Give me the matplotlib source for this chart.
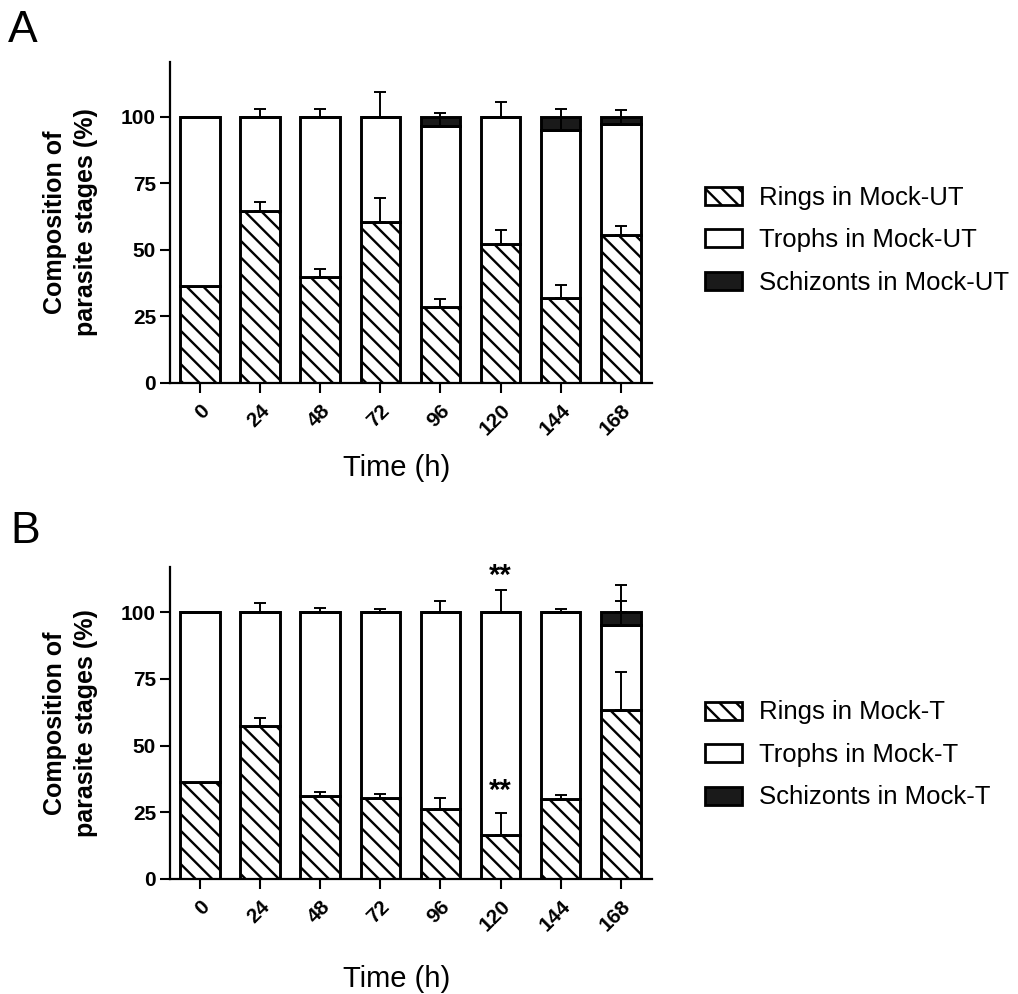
import matplotlib
matplotlib.use("Agg")
import matplotlib.pyplot as plt
from matplotlib.patches import Patch
import numpy as np

plt.rcParams['font.family'] = ['Liberation Sans', 'DejaVu Sans']
plt.rcParams['hatch.linewidth'] = 1.7

# ---------------- data ----------------
time_labels = ["0", "24", "48", "72", "96", "120", "144", "168"]

# Panel A (Mock-UT)
rings_A = [36.3, 64.7, 39.8, 60.3, 28.4, 52.2, 31.9, 55.7]
schiz_A = [0.0, 0.0, 0.0, 0.0, 3.4, 0.0, 4.9, 2.9]
rings_err_A = [0.0, 3.3, 2.9, 9.2, 3.0, 5.4, 5.0, 3.4]
trophs_err_A = [0.0, 3.0, 3.0, 9.1, 4.9, 5.6, 7.9, 5.2]
schiz_err_A = [0.0, 0.0, 0.0, 0.0, 0.0, 0.0, 0.0, 0.0]

# Panel B (Mock-T)
rings_B = [36.5, 57.2, 31.0, 30.2, 26.1, 16.4, 29.9, 63.5]
schiz_B = [0.0, 0.0, 0.0, 0.0, 0.0, 0.0, 0.0, 4.6]
rings_err_B = [0.0, 3.3, 1.6, 1.7, 4.3, 8.2, 1.5, 14.3]
trophs_err_B = [0.0, 3.5, 1.6, 1.4, 4.3, 8.4, 1.4, 8.7]
schiz_err_B = [0.0, 0.0, 0.0, 0.0, 0.0, 0.0, 0.0, 10.3]

# significance marks in panel B
star_idx = [5, 5]
star_y = [110.5, 30.2]
star_text = ["**", "**"]

legend_A = ["Rings in Mock-UT", "Trophs in Mock-UT", "Schizonts in Mock-UT"]
legend_B = ["Rings in Mock-T", "Trophs in Mock-T", "Schizonts in Mock-T"]

W, H = 1018, 994
fig = plt.figure(figsize=(W / 100, H / 100), dpi=100)


def draw_panel(ax, rings, schiz, r_err, t_err, s_err, ymax, labels, leg_y):
    x = np.arange(len(time_labels))
    rings = np.array(rings)
    schiz = np.array(schiz)
    trophs = 100 - rings - schiz
    bw = 0.66
    lw = 2.1
    ax.bar(x, rings, bw, color='white', edgecolor='black', hatch='\\\\', linewidth=lw, zorder=2)
    ax.bar(x, trophs, bw, bottom=rings, color='white', edgecolor='black', linewidth=lw, zorder=2)
    ax.bar(x, schiz, bw, bottom=rings + trophs, color='#1a1a1a', edgecolor='black', linewidth=lw, zorder=2)

    tops = [rings, rings + trophs, rings + trophs + schiz]
    errs = [np.array(r_err), np.array(t_err), np.array(s_err)]
    for top, err in zip(tops, errs):
        m = err > 0
        if m.any():
            ax.errorbar(x[m], top[m], yerr=[np.zeros(m.sum()), err[m]], fmt='none',
                        ecolor='black', elinewidth=1.4, capsize=4.3, capthick=1.4, zorder=3)

    ax.set_xlim(-0.5, 7.52)
    ax.set_ylim(0, ymax)
    ax.set_yticks([0, 25, 50, 75, 100])
    ax.set_xticks(x)
    ax.set_xticklabels(time_labels, rotation=45, ha='right', rotation_mode='anchor',
                       fontsize=15, fontweight='bold')
    for t in ax.get_yticklabels():
        t.set_fontsize(15)
        t.set_fontweight('bold')
    ax.tick_params(axis='both', direction='out', length=7, width=1.5, pad=3)
    ax.tick_params(axis='x', pad=6)
    for s in ['top', 'right']:
        ax.spines[s].set_visible(False)
    for s in ['left', 'bottom']:
        ax.spines[s].set_linewidth(1.6)
    ax.set_ylabel("Composition of\nparasite stages (%)", fontsize=18, fontweight='bold',
                  linespacing=1.35)
    ax.yaxis.set_label_coords(-0.15, 0.5)
    ax.set_xlabel("Time (h)", fontsize=21)

    handles = [Patch(facecolor='white', edgecolor='black', hatch='\\\\', linewidth=2),
               Patch(facecolor='white', edgecolor='black', linewidth=2),
               Patch(facecolor='#1a1a1a', edgecolor='black', linewidth=2)]
    ax.legend(handles, labels, loc='center left', bbox_to_anchor=(0.6925, leg_y),
              bbox_transform=fig.transFigure, frameon=False, fontsize=18.5,
              handlelength=1.45, handleheight=0.7, handletextpad=0.65,
              labelspacing=0.72, borderpad=0, borderaxespad=0)


axA = fig.add_axes([170 / W, 1 - 383 / H, 482 / W, 321 / H])
draw_panel(axA, rings_A, schiz_A, rings_err_A, trophs_err_A, schiz_err_A, 120.5, legend_A, 1 - 240 / H)
axA.xaxis.set_label_coords(0.471, -0.22)

axB = fig.add_axes([170 / W, 1 - 879 / H, 482 / W, 312 / H])
draw_panel(axB, rings_B, schiz_B, rings_err_B, trophs_err_B, schiz_err_B, 117, legend_B, 1 - 755 / H)
axB.xaxis.set_label_coords(0.471, -0.276)

for i, y, s in zip(star_idx, star_y, star_text):
    axB.text(i, y, s, ha='center', va='baseline', fontsize=21, fontweight='bold', zorder=4)

fig.text(8 / W, 1 - 42 / H, "A", fontsize=32, va='baseline', ha='left')
fig.text(10 / W, 1 - 543 / H, "B", fontsize=32, va='baseline', ha='left')

fig.savefig("out.png", dpi=100)
